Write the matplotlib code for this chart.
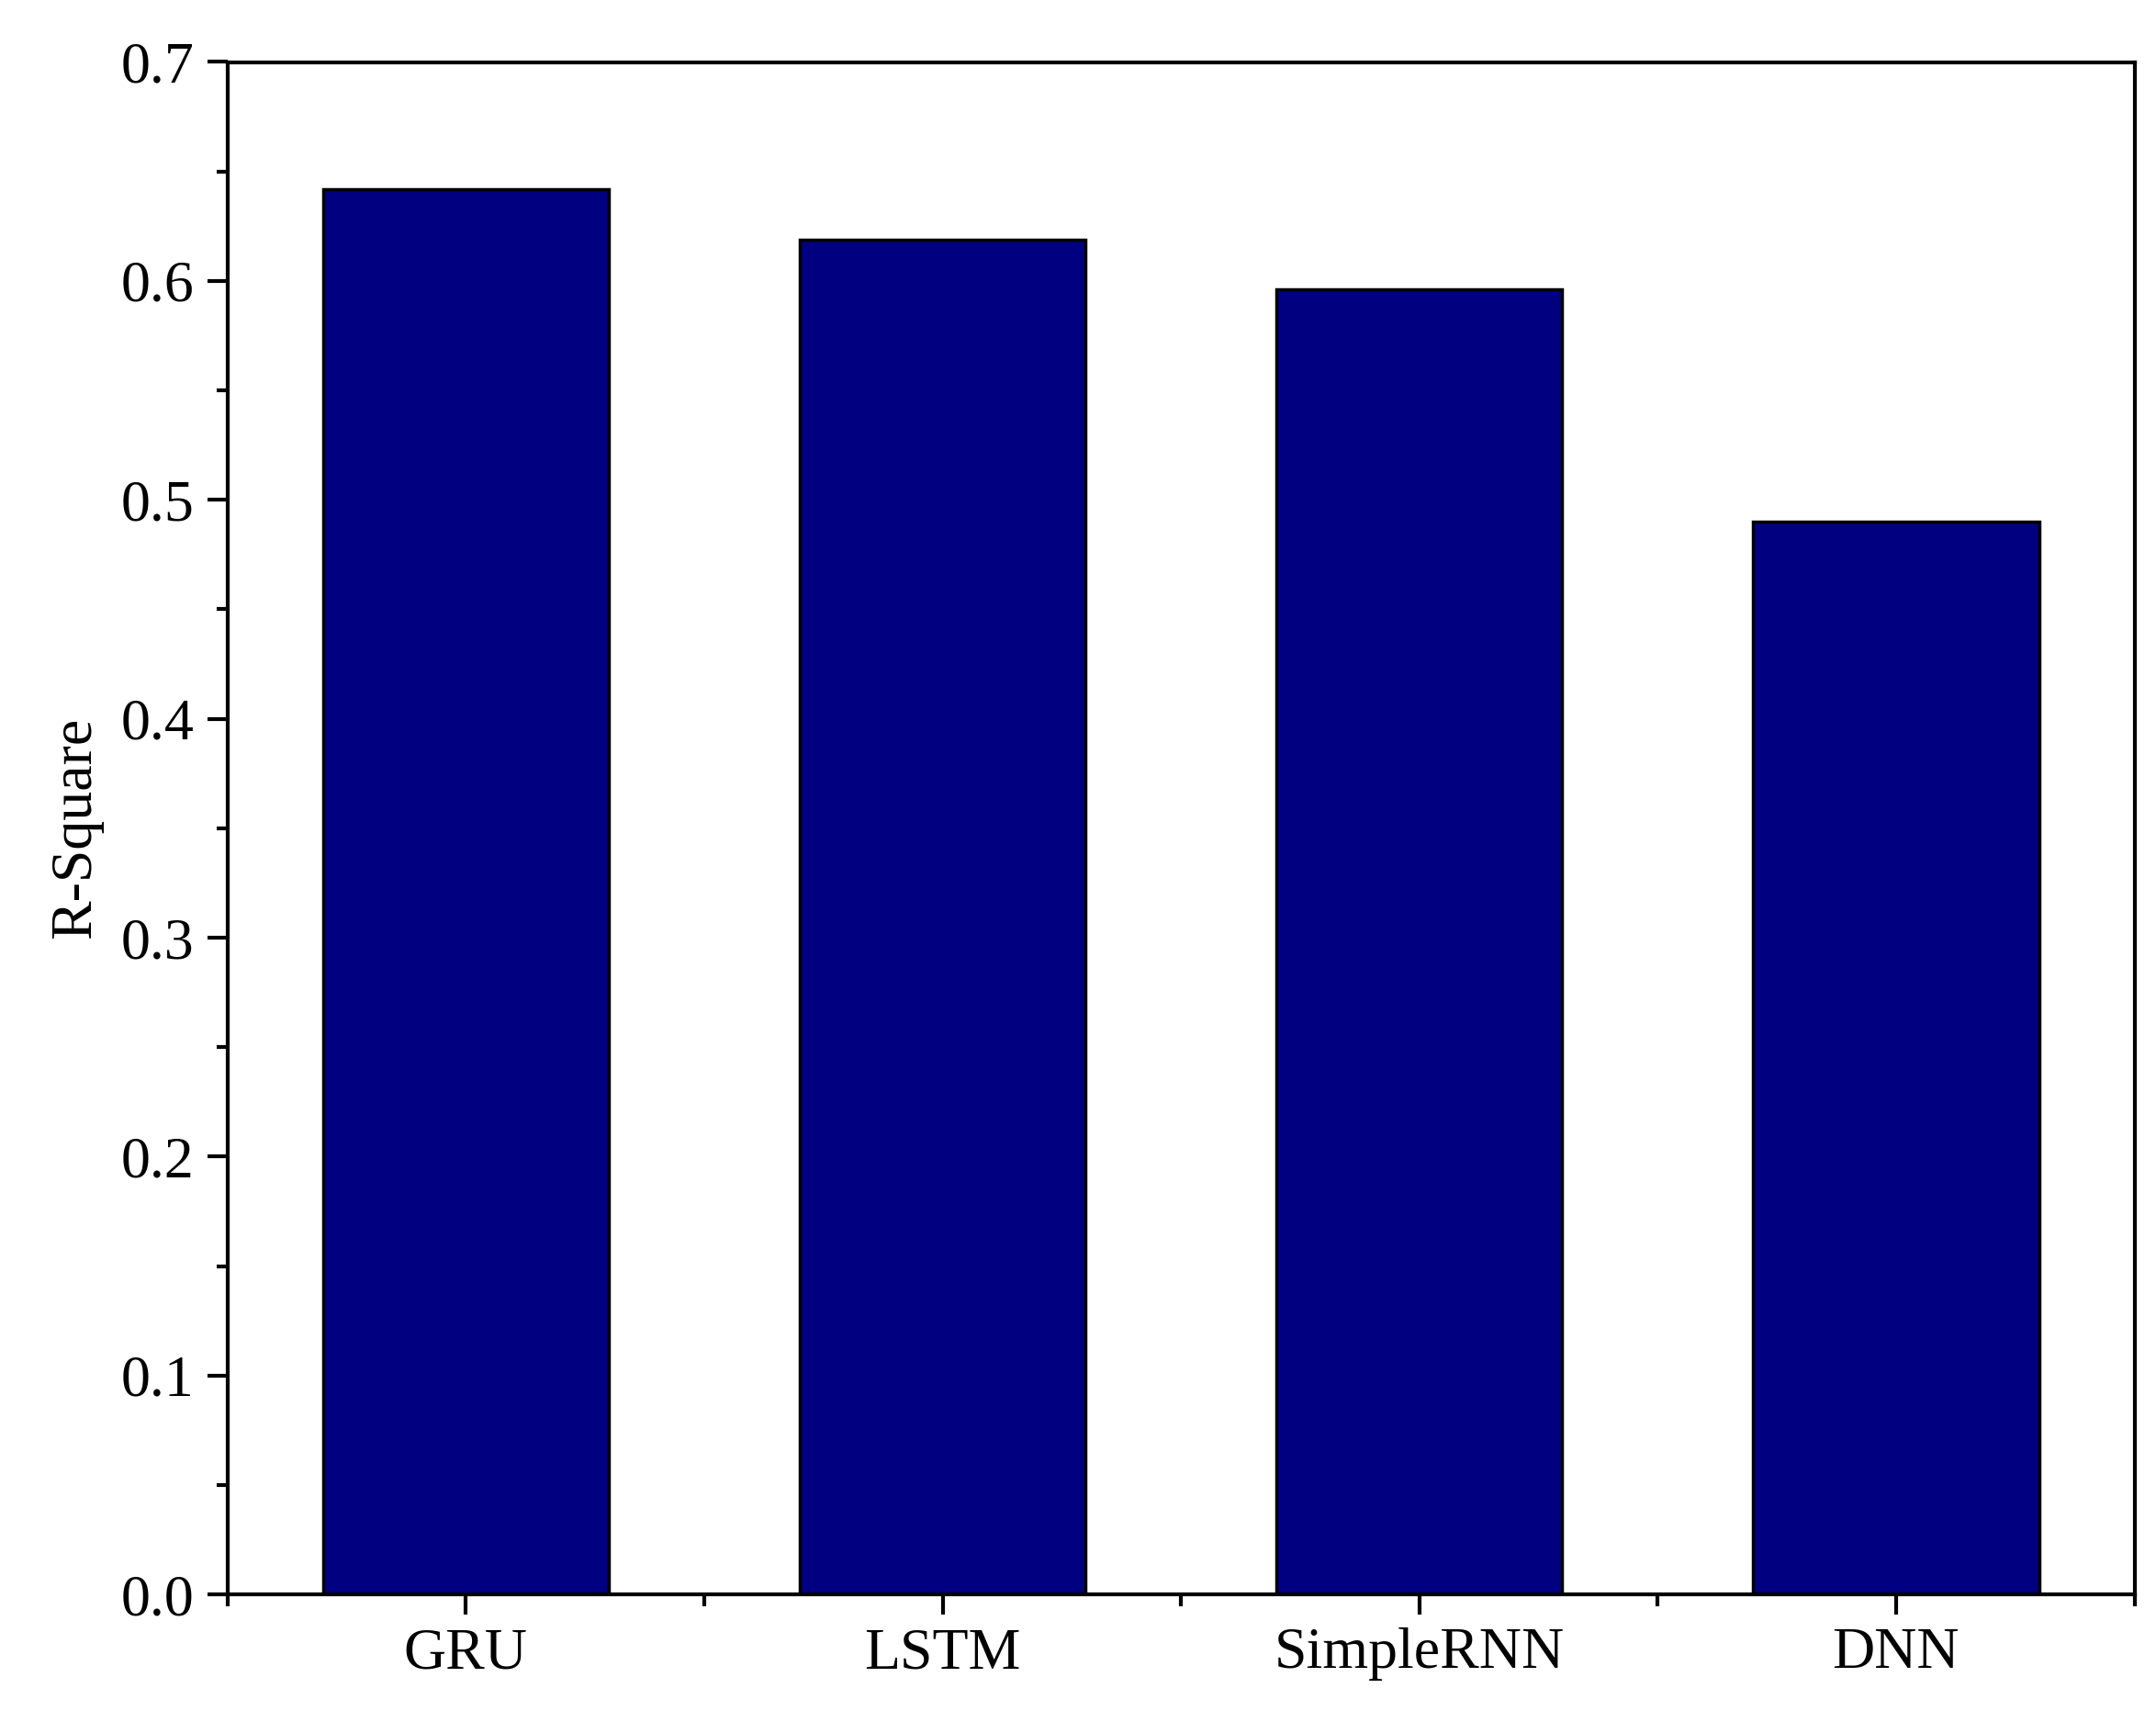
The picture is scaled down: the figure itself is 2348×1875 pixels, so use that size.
import matplotlib.pyplot as plt
from matplotlib.ticker import MultipleLocator

models = ["GRU", "LSTM", "SimpleRNN", "DNN"]
r_square = [0.642, 0.619, 0.596, 0.490]

plt.rcParams['font.family'] = ['Liberation Serif', 'DejaVu Serif']

fig = plt.figure(figsize=(23.48, 18.75), dpi=100)
ax = fig.add_axes([0.1055, 0.074, 0.8845, 0.89])

x = list(range(1, len(models) + 1))
ax.bar(x, r_square, width=0.6, color="#000080", edgecolor="black", linewidth=2.5)

ax.set_xlim(0.5, 4.5)
ax.set_ylim(0, 0.7)
ax.set_xticks(x)
ax.set_xticklabels(models)
ax.xaxis.set_minor_locator(MultipleLocator(0.5))
ax.yaxis.set_major_locator(MultipleLocator(0.1))
ax.yaxis.set_minor_locator(MultipleLocator(0.05))
ax.yaxis.set_major_formatter(plt.FormatStrFormatter("%.1f"))

ax.tick_params(which="major", direction="out", length=16, width=3, labelsize=46, pad=10)
ax.tick_params(which="minor", direction="out", length=9, width=3)
for s in ax.spines.values():
    s.set_linewidth(3)

ax.set_ylabel("R-Square", fontsize=46, labelpad=14)

plt.savefig("out.png")
